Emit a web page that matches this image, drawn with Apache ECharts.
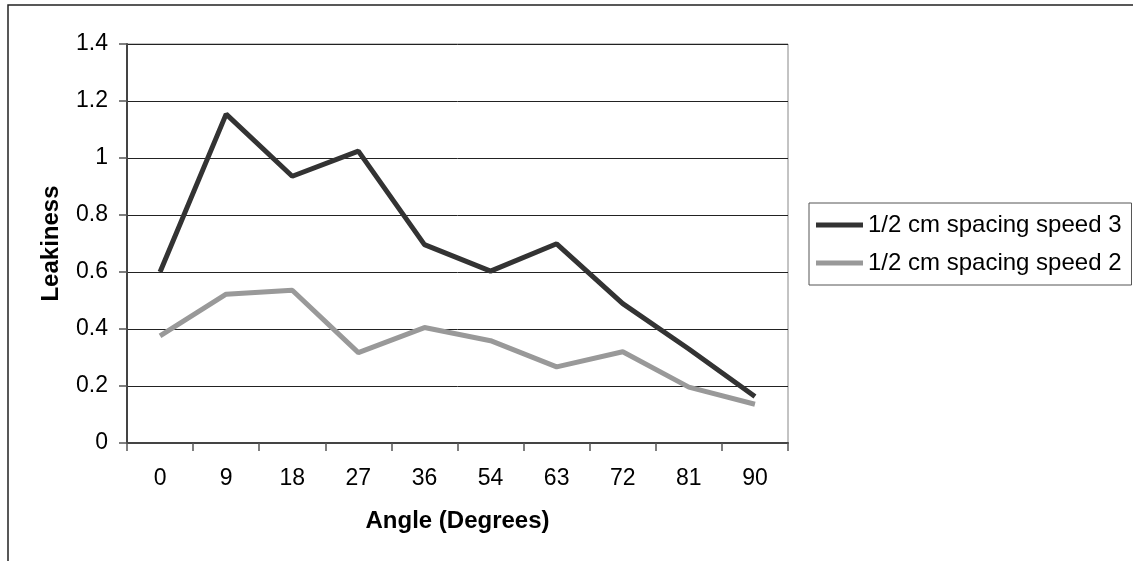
<!DOCTYPE html>
<html>
<head>
<meta charset="utf-8">
<title>Leakiness vs angle</title>
<script src="https://cdn.jsdelivr.net/npm/echarts@6/dist/echarts.min.js"></script>
<style>
  html, body { margin: 0; padding: 0; background: #fff; }
  #chart { width: 1133px; height: 561px; }
</style>
</head>
<body>
<div id="chart"></div>
<script>
// x categories (angle in degrees)
const angles = ['0', '9', '18', '27', '36', '54', '63', '72', '81', '90'];
// leakiness readings
const speed3 = [0.60, 1.154, 0.936, 1.024, 0.696, 0.603, 0.699, 0.489, 0.33, 0.163];
const speed2 = [0.376, 0.522, 0.536, 0.317, 0.405, 0.359, 0.267, 0.32, 0.196, 0.136];
const seriesNames = ['1/2 cm spacing speed 3', '1/2 cm spacing speed 2'];

const font = 'Liberation Sans, Arial, sans-serif';
const chart = echarts.init(document.getElementById('chart'), null, { renderer: 'canvas' });

const option = {
  animation: false,
  backgroundColor: '#fff',
  textStyle: { fontFamily: font },
  // outer chart frame (only top and left edges are visible in the picture)
  graphic: [{
    type: 'rect',
    shape: { x: 8, y: 5, width: 1200, height: 700 },
    style: { fill: 'none', stroke: '#222', lineWidth: 1.5 },
    silent: true
  }],
  grid: {
    left: 127, right: 345, top: 44, bottom: 118,
    show: true, borderColor: '#888', borderWidth: 1
  },
  legend: {
    left: 809, top: 203,
    orient: 'vertical',
    data: seriesNames,
    icon: 'rect',
    itemWidth: 47, itemHeight: 5,
    itemGap: 14,
    padding: [10, 10, 10, 7],
    borderColor: '#555', borderWidth: 1,
    textStyle: { fontFamily: font, fontSize: 24, color: '#000' }
  },
  xAxis: {
    type: 'category',
    data: angles,
    boundaryGap: true,
    name: 'Angle (Degrees)',
    nameLocation: 'middle',
    nameGap: 66,
    nameTextStyle: { fontFamily: font, fontSize: 24, fontWeight: 'bold', color: '#000' },
    axisLine: { lineStyle: { color: '#444', width: 2 } },
    axisTick: { show: true, length: 8, lineStyle: { color: '#555', width: 1.5 } },
    axisLabel: { fontFamily: font, fontSize: 23, color: '#000', margin: 24 },
    splitLine: { show: false }
  },
  yAxis: {
    type: 'value',
    min: 0, max: 1.4, interval: 0.2,
    name: 'Leakiness',
    nameLocation: 'middle',
    nameGap: 64,
    nameTextStyle: { fontFamily: font, fontSize: 24, fontWeight: 'bold', color: '#000' },
    axisLine: { show: true, lineStyle: { color: '#444', width: 2 } },
    axisTick: { show: true, length: 8, lineStyle: { color: '#555', width: 1.5 } },
    axisLabel: { fontFamily: font, fontSize: 23, color: '#000', margin: 19 },
    splitLine: { lineStyle: { color: '#222', width: 1 } }
  },
  series: [
    {
      name: seriesNames[0],
      type: 'line',
      data: speed3,
      showSymbol: false,
      symbol: 'none',
      lineStyle: { color: '#333', width: 5 },
      itemStyle: { color: '#333' }
    },
    {
      name: seriesNames[1],
      type: 'line',
      data: speed2,
      showSymbol: false,
      symbol: 'none',
      lineStyle: { color: '#999', width: 5 },
      itemStyle: { color: '#999' }
    }
  ]
};

chart.setOption(option);
</script>
</body>
</html>
